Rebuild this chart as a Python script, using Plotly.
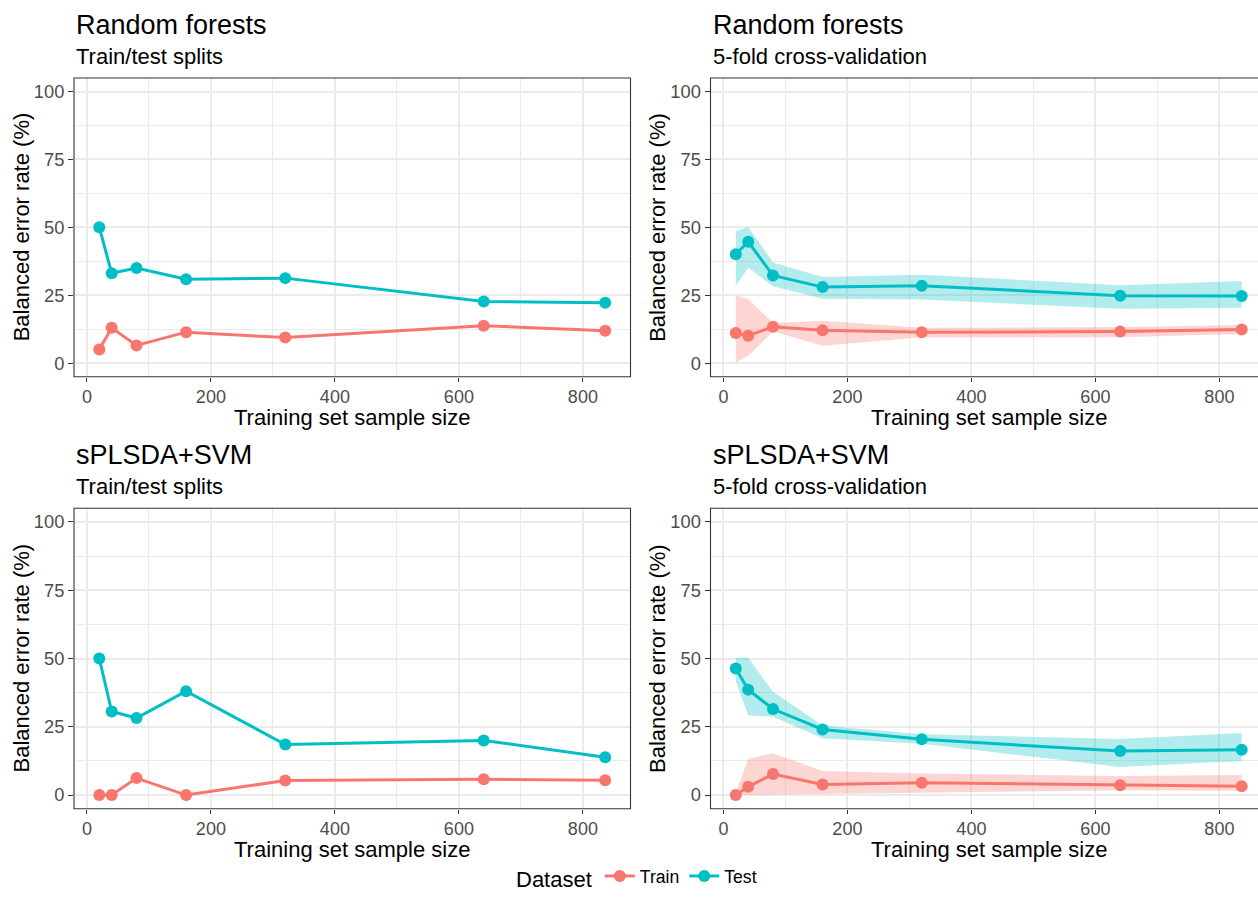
import plotly.graph_objects as go

W, H = 1258, 897

# ---------------- data ----------------
sizes = [20, 40, 80, 160, 320, 640, 836]

rf_split_train = [5.0, 13.0, 6.5, 11.4, 9.4, 13.8, 11.9]
rf_split_test = [50.0, 33.1, 35.0, 30.9, 31.3, 22.7, 22.2]

rf_cv_train = [11.1, 10.1, 13.4, 12.1, 11.4, 11.6, 12.4]
rf_cv_train_lo = [0.2, 2.7, 11.6, 6.4, 9.5, 9.5, 10.7]
rf_cv_train_hi = [25.0, 23.6, 14.8, 15.6, 13.0, 13.3, 14.0]
rf_cv_test = [40.1, 44.7, 32.3, 28.0, 28.5, 24.8, 24.7]
rf_cv_test_lo = [28.4, 35.1, 28.3, 23.7, 23.4, 20.0, 20.4]
rf_cv_test_hi = [48.6, 50.1, 37.1, 31.7, 32.5, 28.7, 30.2]

spl_split_train = [0.0, 0.0, 6.2, 0.0, 5.3, 5.8, 5.4]
spl_split_test = [50.0, 30.6, 28.2, 38.0, 18.5, 20.0, 13.8]

spl_cv_train = [0.0, 3.0, 7.7, 3.9, 4.5, 3.6, 3.2]
spl_cv_train_lo = [0.0, 0.0, 0.0, 0.4, 0.9, 1.8, 1.6]
spl_cv_train_hi = [0.8, 13.2, 15.3, 8.8, 7.9, 7.0, 7.3]
spl_cv_test = [46.3, 38.6, 31.5, 24.0, 20.4, 16.1, 16.6]
spl_cv_test_lo = [41.5, 29.2, 28.7, 20.8, 18.8, 10.3, 12.5]
spl_cv_test_hi = [50.4, 50.3, 37.8, 25.5, 22.3, 20.5, 22.7]

methods = ["Random forests", "Random forests", "sPLSDA+SVM", "sPLSDA+SVM"]
schemes = ["Train/test splits", "5-fold cross-validation", "Train/test splits", "5-fold cross-validation"]
x_ticks = [0, 200, 400, 600, 800]
y_ticks = [0, 25, 50, 75, 100]

# ---------------- style ----------------
TRAIN_COL = "#F8766D"
TEST_COL = "#00BFC4"
TRAIN_FILL = "rgba(248,118,109,0.3)"
TEST_FILL = "rgba(0,191,196,0.3)"
FONT = "Liberation Sans, Arial, Helvetica, sans-serif"
GRID = "#EBEBEB"
BORDER = "#333333"


def fx(p):
    return p / W


def fy(p):
    return 1 - p / H


# panel pixel boxes (left, right, top, bottom)
px_per_unit = (630.5 - 74) / 897.6
boxes = [
    (74, 630.5, 78, 376.7),
    (710.5, 1258, 78, 376.7),
    (74, 630.5, 508.3, 808.7),
    (710.5, 1258, 508.3, 808.7),
]

panel_data = [
    dict(train=rf_split_train, test=rf_split_test),
    dict(train=rf_cv_train, test=rf_cv_test,
         train_lo=rf_cv_train_lo, train_hi=rf_cv_train_hi,
         test_lo=rf_cv_test_lo, test_hi=rf_cv_test_hi),
    dict(train=spl_split_train, test=spl_split_test),
    dict(train=spl_cv_train, test=spl_cv_test,
         train_lo=spl_cv_train_lo, train_hi=spl_cv_train_hi,
         test_lo=spl_cv_test_lo, test_hi=spl_cv_test_hi),
]

fig = go.Figure()
annotations = []
shapes = []
layout_axes = {}

for i, (box, d) in enumerate(zip(boxes, panel_data)):
    n = i + 1
    xa = "x" if n == 1 else f"x{n}"
    ya = "y" if n == 1 else f"y{n}"
    l, r, t, b = box
    xmin = -20.8
    xmax = xmin + (r - l) / px_per_unit

    # ribbons
    if "train_lo" in d:
        for lo, hi, fill in ((d["train_lo"], d["train_hi"], TRAIN_FILL),
                             (d["test_lo"], d["test_hi"], TEST_FILL)):
            fig.add_trace(go.Scatter(
                x=sizes + sizes[::-1], y=hi + lo[::-1],
                fill="toself", fillcolor=fill, line=dict(width=0),
                mode="lines", hoverinfo="skip", showlegend=False,
                xaxis=xa, yaxis=ya))

    for name, vals, col in (("Train", d["train"], TRAIN_COL), ("Test", d["test"], TEST_COL)):
        fig.add_trace(go.Scatter(
            x=sizes, y=vals, mode="lines+markers", name=name,
            line=dict(color=col, width=3),
            marker=dict(color=col, size=12),
            legendgroup=name, showlegend=(n == 1),
            xaxis=xa, yaxis=ya))

    axkey = "" if n == 1 else str(n)
    layout_axes["xaxis" + axkey] = dict(
        domain=[fx(l), fx(r)], range=[xmin, xmax], anchor=ya,
        tickvals=x_ticks, ticktext=[str(v) for v in x_ticks],
        ticks="outside", ticklen=4, tickwidth=1.1, tickcolor=BORDER,
        tickfont=dict(family=FONT, size=18, color="#4D4D4D"),
        showgrid=True, gridcolor=GRID, gridwidth=1.5,
        minor=dict(tickvals=[100, 300, 500, 700], showgrid=True, gridcolor=GRID, gridwidth=0.9),
        zeroline=False, showline=False, automargin=False, fixedrange=True)
    layout_axes["yaxis" + axkey] = dict(
        domain=[fy(b), fy(t)], range=[-5, 105], anchor=xa,
        tickvals=y_ticks, ticktext=[str(v) for v in y_ticks],
        ticks="outside", ticklen=5, tickwidth=1.1, tickcolor=BORDER,
        tickfont=dict(family=FONT, size=18.3, color="#4D4D4D"),
        showgrid=True, gridcolor=GRID, gridwidth=1.5,
        minor=dict(tickvals=[12.5, 37.5, 62.5, 87.5], showgrid=True, gridcolor=GRID, gridwidth=0.9),
        zeroline=False, showline=False, automargin=False, fixedrange=True)

    # panel border
    shapes.append(dict(type="rect", xref="paper", yref="paper",
                       x0=fx(l), x1=fx(r) if r < W else 1.02, y0=fy(b), y1=fy(t),
                       line=dict(color=BORDER, width=1.1), fillcolor="rgba(0,0,0,0)", layer="above"))

    # titles
    annotations.append(dict(text=methods[i], x=fx(l), y=fy(t - 53.5), xref="paper", yref="paper",
                            xanchor="left", yanchor="middle", showarrow=False,
                            font=dict(family=FONT, size=27, color="black")))
    annotations.append(dict(text=schemes[i], x=fx(l), y=fy(t - 21.5), xref="paper", yref="paper",
                            xanchor="left", yanchor="middle", showarrow=False,
                            font=dict(family=FONT, size=22, color="black")))
    # axis titles
    full_r = l + 897.6 * px_per_unit
    annotations.append(dict(text="Training set sample size", x=fx((l + full_r) / 2), y=fy(b + 40.5),
                            xref="paper", yref="paper", xanchor="center", yanchor="middle",
                            showarrow=False, font=dict(family=FONT, size=22, color="black")))
    annotations.append(dict(text="Balanced error rate (%)", x=fx(l - 53), y=fy((t + b) / 2),
                            xref="paper", yref="paper", xanchor="center", yanchor="middle",
                            textangle=-90, showarrow=False,
                            font=dict(family=FONT, size=22, color="black")))

fig.update_layout(
    width=W, height=H,
    margin=dict(l=0, r=0, t=0, b=0, autoexpand=False),
    paper_bgcolor="white", plot_bgcolor="white",
    font=dict(family=FONT, color="black"),
    showlegend=True,
    legend=dict(orientation="h", x=fx(638), xanchor="center", y=0, yanchor="bottom",
                title=dict(text="Dataset", font=dict(family=FONT, size=22, color="black"), side="left"),
                font=dict(family=FONT, size=17.6, color="black"),
                bgcolor="rgba(0,0,0,0)", itemwidth=30, traceorder="normal"),
    annotations=annotations, shapes=shapes,
    **layout_axes,
)

fig.write_html("out.html")
